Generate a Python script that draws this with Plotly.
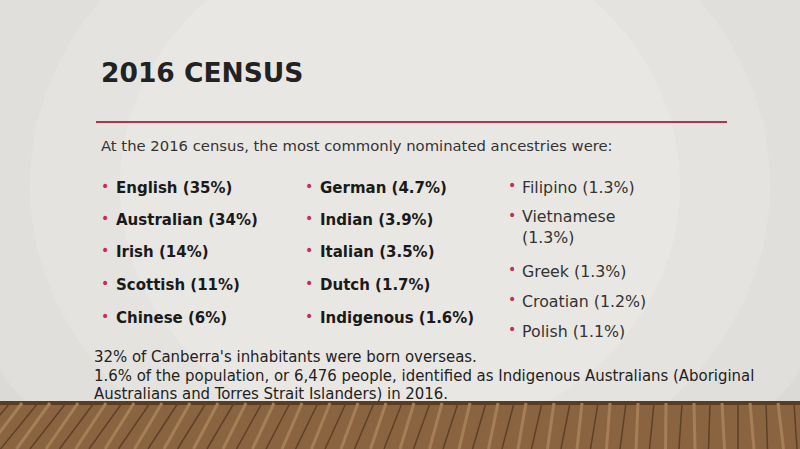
import plotly.graph_objects as go

title = "2016 CENSUS"
intro = "At the 2016 census, the most commonly nominated ancestries were:"
col1 = ["English (35%)", "Australian (34%)", "Irish (14%)", "Scottish (11%)", "Chinese (6%)"]
col2 = ["German (4.7%)", "Indian (3.9%)", "Italian (3.5%)", "Dutch (1.7%)", "Indigenous (1.6%)"]
col3 = ["Filipino (1.3%)", "Vietnamese<br>(1.3%)", "Greek (1.3%)", "Croatian (1.2%)", "Polish (1.1%)"]
footer = [
    "32% of Canberra's inhabitants were born overseas.",
    "1.6% of the population, or 6,476 people, identified as Indigenous Australians (Aboriginal",
    "Australians and Torres Strait Islanders) in 2016.",
]

W, H = 800, 449
fig = go.Figure()
shapes = []
# background, lighter in the middle
shapes.append(dict(type="rect", x0=0, x1=W, y0=0, y1=H, fillcolor="#d6d4d1", line_width=0, layer="below"))
for i, c in enumerate(["#dcdad7", "#e1dfdc", "#e5e3e0", "#e9e7e4"]):
    shapes.append(dict(type="circle", x0=-150 + i * 90, x1=W + 150 - i * 90, y0=-250 + i * 60,
                       y1=620 - i * 60, fillcolor=c, line_width=0, layer="below"))
# wooden floor
shapes.append(dict(type="rect", x0=0, x1=W, y0=401, y1=H, fillcolor="#8a6440", line_width=0, layer="below"))
shapes.append(dict(type="rect", x0=0, x1=W, y0=401, y1=405, fillcolor="#5a3c22", line_width=0, layer="below"))
for k in range(-4, 30):
    x0 = k * 28
    shapes.append(dict(type="line", x0=x0 + 10, x1=x0 - 8 + (k - 14) * 1.5, y0=403, y1=H,
                       line=dict(color="#5e4028", width=1.5), layer="below"))
    shapes.append(dict(type="line", x0=x0 + 22, x1=x0 + 8 + (k - 14) * 1.5, y0=403, y1=H,
                       line=dict(color="#a57f58", width=3), layer="below"))
# red rule
shapes.append(dict(type="line", x0=96, x1=727, y0=122, y1=122, line=dict(color="#b8324f", width=2)))

ann = []
def txt(x, y, s, size, color="#222", bold=False, family="DejaVu Sans"):
    ann.append(dict(x=x, y=y, text=f"<b>{s}</b>" if bold else s, showarrow=False, xanchor="left",
                    yanchor="middle", align="left", font=dict(family=family, size=size, color=color)))

txt(99, 72, title, 26.5, "#222", True)
txt(99, 145, intro, 14.8, "#333")
rows12 = [188, 220, 252, 285, 318]
for y, a, b in zip(rows12, col1, col2):
    txt(99, y - 2, "•", 14, "#c0305a")
    txt(114, y, a, 15, "#1a1a1a", True)
    txt(303, y - 2, "•", 14, "#c0305a")
    txt(318, y, b, 15, "#1a1a1a", True)
rows3 = [187, 227, 271, 301, 331]
for y, c in zip(rows3, col3):
    top = y - 10 if "<br>" in c else y
    txt(506, top - 2, "•", 14, "#c0305a")
    txt(520, y, c, 15.8, "#333")
for y, s in zip([356, 375, 393], footer):
    txt(92, y, s, 16.6, "#222", family="DejaVu Sans Condensed")

fig.update_layout(width=W, height=H, margin=dict(l=0, r=0, t=0, b=0), shapes=shapes, annotations=ann,
                  xaxis=dict(range=[0, W], visible=False, fixedrange=True),
                  yaxis=dict(range=[H, 0], visible=False, fixedrange=True),
                  plot_bgcolor="#e6e4e1", paper_bgcolor="#e6e4e1", showlegend=False)
fig.write_html("out.html", config={"displayModeBar": False},
               post_script="document.body.style.margin='0';document.body.style.overflow='hidden';")
